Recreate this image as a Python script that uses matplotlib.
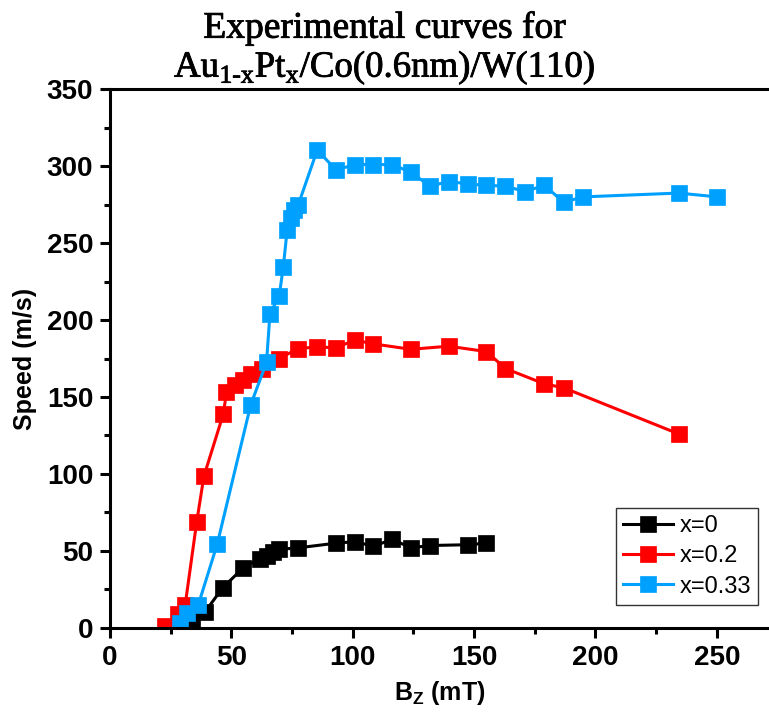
import matplotlib
matplotlib.use('Agg')
import matplotlib.pyplot as plt
import matplotlib.patheffects as pe
from matplotlib.ticker import MultipleLocator

# data
bz_x0 = [29.5, 34, 39, 46.4, 54.9, 61.8, 64.5, 67.3, 69.7, 77.6, 93, 101, 108.5, 116.3, 124, 131.8, 147.3, 155]
v_x0 = [0, 5, 10, 26, 39, 45, 46.5, 49.5, 51, 52, 55, 56, 53, 57.5, 52, 53.5, 54, 55]

bz_x02 = [22.6, 28, 31, 35.7, 38.7, 46.7, 48, 51.5, 54.9, 58.3, 62.5, 69.7, 77.6, 85.4, 93.1, 100.9,
          108.5, 124, 139.6, 155.1, 162.9, 179, 186.9, 234.3]
v_x02 = [1, 9, 15, 68.5, 98.5, 139, 153, 158, 161, 165, 168, 175, 181.5, 182.5, 182, 187,
         184.5, 181, 183, 179.5, 168.5, 158.5, 156, 126]

bz_x033 = [29, 31.6, 36.4, 44.2, 58, 64.5, 65.9, 69.7, 71.4, 73, 74.4, 75.8, 77.6, 85.4, 93.1, 100.9,
           108.5, 116.3, 124, 131.8, 139.6, 147.3, 155, 162.9, 170.9, 179, 186.9, 194.7, 234.3, 250.2]
v_x033 = [3, 9.5, 15, 54.5, 145, 172.5, 204, 215.5, 234.5, 258.5, 266.5, 271.5, 275, 310.5, 297.5, 301,
          301, 301, 296, 287, 290, 288.5, 287.5, 287, 283.5, 287.5, 276.5, 280, 282.5, 280]

labels = ['x=0', 'x=0.2', 'x=0.33']
colors = ['black', '#ff0000', '#00a0ff']

plt.rcParams['font.family'] = ['Liberation Sans', 'DejaVu Sans']
plt.rcParams['mathtext.fontset'] = 'custom'
plt.rcParams['mathtext.rm'] = 'Liberation Serif'
plt.rcParams['mathtext.bf'] = 'Liberation Sans:bold'

fig = plt.figure(figsize=(7.69, 7.25), dpi=100)
ax = fig.add_axes([0.143, 0.134, 0.857, 0.743])

series = [(bz_x0, v_x0), (bz_x02, v_x02), (bz_x033, v_x033)]
for (xs, ys), lab, col in zip(series, labels, colors):
    ax.plot(xs, ys, '-s', color=col, lw=2.2, ms=11, mec=col, mew=0.5, label=lab)

ax.set_xlim(0, 271.5)
ax.set_ylim(0, 350)
ax.xaxis.set_major_locator(MultipleLocator(50))
ax.xaxis.set_minor_locator(MultipleLocator(25))
ax.yaxis.set_major_locator(MultipleLocator(50))
ax.yaxis.set_minor_locator(MultipleLocator(25))

for s in ['left', 'bottom', 'top']:
    ax.spines[s].set_linewidth(2.2)
ax.spines['right'].set_visible(False)
ax.tick_params(which='major', direction='out', length=7, width=2.2, labelsize=20, pad=5)
ax.tick_params(which='minor', direction='out', length=4, width=2.2)
ax.tick_params(top=False, right=False, which='both')
for t in ax.get_xticklabels() + ax.get_yticklabels():
    t.set_fontweight('bold')

ax.set_xlabel(r'B$_\mathbf{Z}$ (mT)', fontsize=18, fontweight='bold', labelpad=6)
ax.set_ylabel('Speed (m/s)', fontsize=18, fontweight='bold', labelpad=7)

leg = ax.legend(loc='lower right', bbox_to_anchor=(0.984, 0.043), fontsize=17, frameon=True,
                fancybox=False, edgecolor='black', handlelength=2.1, borderpad=0.3,
                labelspacing=0.35, handletextpad=0.3, borderaxespad=0)
leg.get_frame().set_linewidth(1.0)

# a thin stroke makes the serif title a bit heavier, like the reference
heavy = [pe.withStroke(linewidth=0.6, foreground='black')]
fig.text(0.5, 0.948, 'Experimental curves for', ha='center', va='baseline',
         family='Liberation Serif', fontsize=27, path_effects=heavy)
fig.text(0.5, 0.894, r'Au$_{\mathrm{1\text{-}x}}$Pt$_\mathrm{x}$/Co(0.6nm)/W(110)', ha='center',
         va='baseline', family='Liberation Serif', fontsize=26.5, path_effects=heavy)

fig.savefig('out.png', dpi=100)
